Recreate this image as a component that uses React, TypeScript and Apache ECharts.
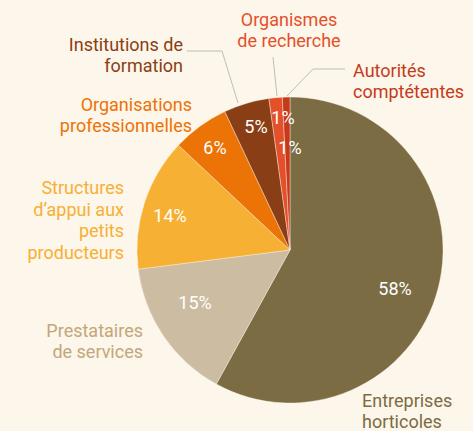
import React, { useEffect, useRef } from "react";
import * as echarts from "echarts";

// ---- data ----
const categories = [
  "Entreprises\nhorticoles",
  "Prestataires\nde services",
  "Structures\nd’appui aux\npetits\nproducteurs",
  "Organisations\nprofessionnelles",
  "Institutions de\nformation",
  "Organismes\nde recherche",
  "Autorités\ncomptétentes",
];
const shares = [58, 15, 14, 6, 4.8, 1.4, 0.8];

// ---- styles / layout ----
const sliceColors = ["#7b6c43", "#cbbca2", "#f6b034", "#ec7306", "#8a3e15", "#e4502a", "#c63a1c"];
const textColors = ["#7b6c43", "#c2a77b", "#f6b034", "#ec7306", "#8a3e15", "#e4502a", "#c63a1c"];
const nameLabelPos = [
  { x: 362, y: 411, align: "left" },
  { x: 143, y: 341, align: "right" },
  { x: 124, y: 220, align: "right" },
  { x: 192, y: 115, align: "right" },
  { x: 183, y: 55, align: "right" },
  { x: 289, y: 30, align: "center" },
  { x: 353, y: 81, align: "left" },
];
const guidePoints: (number[][] | null)[] = [
  null,
  null,
  null,
  null,
  [[238, 103], [222, 51], [187, 51]],
  [[277, 96], [273, 57]],
  [[287, 96], [313, 69], [345, 69]],
];
const pctLabelPos = [
  [395, 288],
  [195, 302],
  [170, 215],
  [215, 147],
  [256, 126],
  [283, 117],
  [290, 147],
];

const BG = "#fdf6ea";
const FONT = "Roboto";

export default function App() {
  const ref = useRef<HTMLDivElement>(null);
  useEffect(() => {
    if (!ref.current) return;
    const chart = echarts.init(ref.current, undefined, { renderer: "svg" });
    const center = [290, 250];
    const radius = 153;
    chart.setOption({
      animation: false,
      backgroundColor: BG,
      series: [
        {
          type: "pie",
          center,
          radius,
          startAngle: 90,
          clockwise: true,
          avoidLabelOverlap: false,
          itemStyle: { borderColor: BG, borderWidth: 0.4 },
          label: {
            show: true,
            position: "outside",
            fontFamily: FONT,
            fontSize: 18,
            lineHeight: 21.5,
            formatter: "{b}",
          },
          labelLine: { show: false },
          labelLayout: (p: any) => {
            const i = p.dataIndex;
            const pos = nameLabelPos[i];
            const out: any = { x: pos.x, y: pos.y, align: pos.align, verticalAlign: "middle" };
            if (guidePoints[i]) out.labelLinePoints = guidePoints[i];
            return out;
          },
          data: categories.map((name, i) => ({
            name,
            value: shares[i],
            itemStyle: { color: sliceColors[i] },
            label: { color: textColors[i], align: nameLabelPos[i].align },
            labelLine: guidePoints[i]
              ? { show: true, length: 10, length2: 10, smooth: false, lineStyle: { color: "#bdbdbd", width: 1 } }
              : { show: false },
          })),
        },
        {
          type: "pie",
          center,
          radius,
          startAngle: 90,
          clockwise: true,
          silent: true,
          avoidLabelOverlap: false,
          itemStyle: { color: "rgba(0,0,0,0)" },
          label: {
            show: true,
            position: "inside",
            fontFamily: FONT,
            fontSize: 18,
            color: "#ffffff",
            formatter: (p: any) => Math.round(p.value) + "%",
          },
          labelLine: { show: false },
          labelLayout: (p: any) => {
            const pos = pctLabelPos[p.dataIndex];
            return { x: pos[0], y: pos[1], align: "center", verticalAlign: "middle" };
          },
          data: categories.map((name, i) => ({ name, value: shares[i] })),
        },
      ],
    });
    return () => chart.dispose();
  }, []);
  return (
    <div
      ref={ref}
      style={{ position: "absolute", left: 0, top: 0, width: 473, height: 431, background: BG }}
    />
  );
}
